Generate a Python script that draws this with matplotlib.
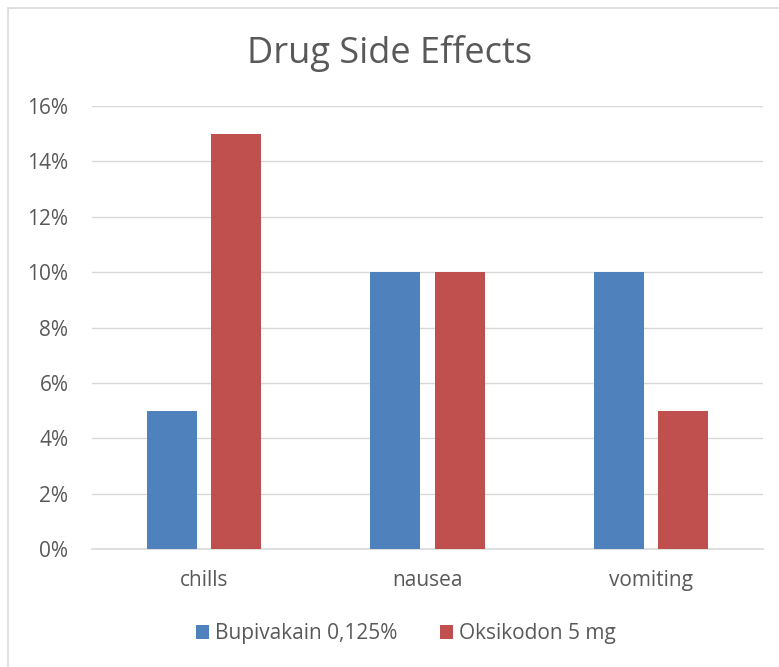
import numpy as np, matplotlib
matplotlib.use("Agg"); import matplotlib.pyplot as plt
from matplotlib.patches import Rectangle
from matplotlib.ticker import PercentFormatter

categories = ["chills", "nausea", "vomiting"]
series_names = ["Bupivakain 0,125%", "Oksikodon 5 mg"]
bupivakain = [5, 10, 10]
oksikodon = [15, 10, 5]
yticks = [0, 2, 4, 6, 8, 10, 12, 14, 16]

plt.rcParams["font.family"] = ["Open Sans", "DejaVu Sans"]
W, H = 779, 667
fig = plt.figure(figsize=(W/100, H/100), dpi=100)
txt = "#595959"; grid = "#d9d9d9"
# chart frame (only top/left fall inside the picture)
fig.patches.append(Rectangle((8/W, -0.1), 1.2, 1.1 - 8/H, transform=fig.transFigure,
                             fc="none", ec="#d9d9d9", lw=1.2, zorder=0))

ax = fig.add_axes([92/W, 118/H, 671/W, 443/H])
x = np.arange(len(categories))
bw = 0.2235; off = 0.1431
ax.bar(x - off, bupivakain, bw, color="#4f81bd", label=series_names[0], zorder=3)
ax.bar(x + off, oksikodon, bw, color="#c0504d", label=series_names[1], zorder=3)
ax.set_xlim(-0.5, 2.5); ax.set_ylim(0, 16)
ax.set_yticks(yticks)
ax.yaxis.set_major_formatter(PercentFormatter(decimals=0))
ax.set_xticks(x, categories)
ax.grid(axis="y", color=grid, lw=1, zorder=0)
for s in ["top", "right", "left"]: ax.spines[s].set_visible(False)
ax.spines["bottom"].set_color(grid); ax.spines["bottom"].set_linewidth(1.2)
ax.tick_params(length=0, colors=txt, labelsize=15)
ax.tick_params(axis="y", pad=17); ax.tick_params(axis="x", pad=15)
fig.text(0.5, 1 - 53/H, "Drug Side Effects", ha="center", va="center", fontsize=26, color=txt)
fig.legend(loc="center", bbox_to_anchor=(0.521, 1 - 634/H), ncol=2, frameon=False,
           fontsize=15, labelcolor=txt, handlelength=0.65, handleheight=0.65,
           handletextpad=0.3, columnspacing=2.0)
fig.savefig("out.png", dpi=100)
